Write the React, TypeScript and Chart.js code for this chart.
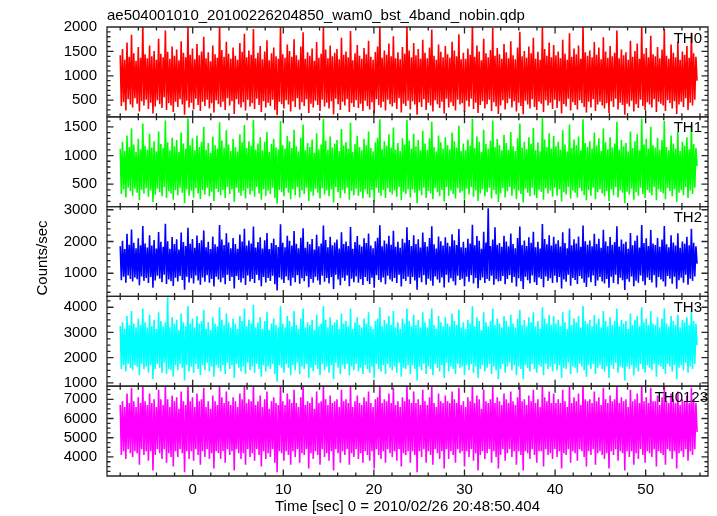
import React, { useEffect, useRef } from 'react';
import { Chart, registerables } from 'chart.js';

Chart.register(...registerables);

const TITLE = 'ae504001010_20100226204850_wam0_bst_4band_nobin.qdp';
const X_TITLE = 'Time [sec] 0 = 2010/02/26 20:48:50.404';
const Y_TITLE = 'Counts/sec';

// time bins (sec): first bin start and bin width
const T_START = -8;
const T_BIN = 0.1246;

const PANEL_NAMES = ['TH0', 'TH1', 'TH2', 'TH3', 'TH0123'];
const COLORS = ['#ff0000', '#00ff00', '#0000ff', '#00ffff', '#ff00ff'];

const X_MIN = -9.46;
const X_MAX = 56.88;
const X_TICKS = [0, 10, 20, 30, 40, 50];

const Y_MIN = [160, 110, 270, 870, 3010];
const Y_MAX = [2000, 1675, 3100, 4430, 7680];
const Y_TICKS_TH0 = [500, 1000, 1500, 2000];
const Y_TICKS_TH1 = [500, 1000, 1500];
const Y_TICKS_TH2 = [1000, 2000, 3000];
const Y_TICKS_TH3 = [1000, 2000, 3000, 4000];
const Y_TICKS_TH0123 = [4000, 5000, 6000, 7000];
const Y_MINOR = [100, 100, 200, 250, 250];

const TH0 = [
  1420, 380, 1550, 460, 1330, 290, 1680, 520, 1390, 410, 1840, 350, 1460, 540, 1310, 430,
  1590, 270, 1370, 480, 2050, 390, 1440, 510, 1360, 320, 1620, 450, 1400, 230, 1510, 370,
  1330, 500, 1760, 420, 1450, 340, 1380, 560, 1930, 300, 1490, 440, 1350, 390, 1600, 260,
  1410, 470, 1540, 360, 1320, 520, 1710, 410, 1470, 200, 1380, 490, 2000, 350, 1430, 450,
  1560, 310, 1340, 530, 1650, 400, 1420, 280, 1500, 470, 1800, 380, 1360, 510, 1480, 330,
  1300, 440, 1620, 250, 1440, 500, 1370, 420, 2100, 360, 1530, 470, 1390, 300, 1700, 540,
  1450, 390, 1350, 480, 1580, 220, 1410, 520, 1330, 410, 1670, 350, 1490, 460, 1860, 290,
  1380, 510, 1520, 370, 1430, 440, 1960, 320, 1360, 530, 1470, 400, 1610, 260, 1340, 480,
  1500, 350, 1730, 450, 1320, 380, 1460, 510, 1580, 300, 1400, 190, 1350, 470, 2020, 420,
  1440, 330, 1370, 500, 1640, 410, 1510, 270, 1390, 480, 1750, 360, 1420, 540, 1330, 310,
  1600, 460, 1890, 380, 1350, 520, 1480, 240, 1410, 430, 1560, 350, 1310, 490, 1690, 400,
  1370, 280, 1450, 510, 2000, 370, 1540, 450, 1360, 330, 1620, 480, 1400, 210, 1470, 530,
  1550, 420, 1340, 300, 1780, 470, 1430, 390, 1500, 520, 1380, 260, 1920, 440, 1320, 360,
  1460, 500, 1630, 340, 1410, 430, 1350, 280, 1570, 490, 1440, 380, 1720, 310, 1390, 460,
  1330, 230, 1490, 520, 1600, 400, 2050, 350, 1370, 470, 1520, 290, 1430, 510, 1660, 420,
  1400, 370, 1810, 450, 1360, 320, 1480, 540, 1340, 250, 1590, 430, 1450, 380, 2000, 490,
  1520, 310, 1380, 480, 1670, 410, 1420, 200, 1550, 460, 1350, 360, 1740, 520, 1470, 300,
  1360, 450, 1580, 390, 1950, 270, 1410, 500, 1330, 420, 1640, 340, 1490, 470, 1380, 230,
  1610, 530, 1440, 350, 1370, 460, 1700, 380, 1520, 290, 1400, 510, 1850, 410, 1340, 440,
  1470, 260, 1350, 490, 1560, 370, 1430, 530, 2080, 320, 1390, 450, 1620, 240, 1500, 400,
  1320, 480, 1760, 330, 1460, 420, 1380, 510, 1530, 280, 1980, 460, 1410, 370, 1570, 220,
  1440, 390, 1350, 500, 1650, 310, 1480, 440, 1360, 530, 1710, 350, 1420, 480, 1340, 270,
  1580, 450, 1900, 380, 1400, 210, 1510, 490, 1370, 410, 1600, 330, 1460, 520, 1780, 360,
  1350, 300, 1490, 470, 1330, 430, 2000, 260, 1550, 500, 1410, 390, 1680, 450, 1380, 320,
  1630, 510, 1420, 340, 1500, 480, 1360, 230, 1740, 420, 1450, 370, 1330, 530, 1870, 290,
  1390, 460, 1560, 400, 1440, 310, 1620, 500, 1350, 440, 2040, 360, 1480, 250, 1410, 470,
  1520, 350, 1380, 520, 1690, 280, 1430, 410, 1580, 470, 1340, 390, 1790, 330, 1500, 440,
  1370, 240, 1610, 480, 1400, 360, 1470, 530, 1930, 310, 1360, 450, 1540, 400, 1420, 200,
  1480, 430, 1330, 370, 1720, 490, 1390, 270, 1510, 420, 1660, 340, 1350, 510, 2010, 380,
  1450, 300, 1570, 460, 1380, 410, 1820, 350, 1440, 520, 1400, 260, 1590, 470, 1360, 430,
  1540, 390, 1960, 280, 1410, 500, 1350, 440, 1640, 330, 1470, 480, 1380, 220, 1700, 410,
  1330, 470, 1500, 360, 1430, 540, 1610, 300, 1370, 450, 1880, 390, 1460, 510, 1390, 900,
];

const TH1 = [
  1120, 330, 1240, 410, 1080, 270, 1350, 440, 1150, 380, 1470, 300, 1190, 420, 1060, 350,
  1290, 220, 1110, 400, 1560, 340, 1170, 430, 1100, 280, 1380, 390, 1140, 190, 1250, 320,
  1070, 420, 1420, 360, 1200, 290, 1130, 450, 1610, 260, 1230, 380, 1090, 340, 1310, 230,
  1160, 400, 1270, 310, 1060, 440, 1400, 350, 1210, 170, 1120, 410, 1650, 300, 1180, 390,
  1300, 270, 1090, 430, 1350, 340, 1150, 240, 1240, 400, 1500, 320, 1100, 440, 1220, 290,
  1050, 370, 1330, 210, 1180, 420, 1120, 360, 1580, 310, 1260, 400, 1140, 260, 1440, 450,
  1190, 330, 1080, 410, 1290, 190, 1150, 440, 1070, 350, 1370, 300, 1230, 390, 1530, 250,
  1130, 430, 1250, 320, 1170, 380, 1620, 280, 1100, 450, 1210, 340, 1320, 230, 1090, 410,
  1240, 300, 1410, 390, 1060, 330, 1200, 440, 1290, 260, 1140, 160, 1110, 400, 1600, 360,
  1180, 290, 1120, 430, 1340, 350, 1250, 240, 1130, 410, 1450, 310, 1160, 450, 1070, 270,
  1310, 390, 1540, 330, 1090, 440, 1220, 210, 1150, 370, 1280, 300, 1050, 420, 1390, 350,
  1110, 250, 1190, 430, 1640, 320, 1260, 390, 1100, 290, 1330, 410, 1140, 180, 1210, 450,
  1270, 360, 1080, 260, 1460, 400, 1170, 340, 1230, 440, 1120, 230, 1570, 380, 1060, 310,
  1200, 420, 1340, 300, 1150, 370, 1090, 250, 1290, 410, 1180, 330, 1420, 270, 1130, 400,
  1070, 200, 1230, 440, 1310, 350, 1630, 300, 1110, 400, 1250, 260, 1170, 430, 1370, 360,
  1140, 320, 1490, 390, 1100, 280, 1220, 450, 1080, 220, 1300, 370, 1190, 330, 1620, 410,
  1260, 270, 1120, 410, 1380, 350, 1160, 170, 1270, 390, 1090, 310, 1430, 440, 1210, 260,
  1100, 380, 1300, 340, 1590, 240, 1150, 430, 1070, 360, 1350, 290, 1230, 400, 1120, 200,
  1320, 450, 1180, 300, 1110, 390, 1400, 330, 1250, 250, 1140, 430, 1520, 350, 1080, 380,
  1210, 230, 1090, 420, 1280, 320, 1170, 450, 1640, 280, 1130, 390, 1330, 210, 1240, 340,
  1060, 410, 1450, 290, 1200, 360, 1120, 440, 1260, 250, 1610, 400, 1150, 320, 1290, 190,
  1180, 340, 1090, 430, 1360, 270, 1220, 380, 1100, 450, 1410, 300, 1160, 410, 1080, 240,
  1300, 390, 1560, 330, 1140, 180, 1240, 420, 1110, 350, 1320, 290, 1200, 440, 1480, 310,
  1090, 260, 1230, 400, 1070, 370, 1650, 230, 1280, 430, 1150, 340, 1390, 390, 1120, 280,
  1340, 440, 1160, 300, 1240, 410, 1100, 200, 1440, 360, 1190, 320, 1070, 450, 1540, 250,
  1130, 390, 1280, 350, 1180, 270, 1330, 430, 1090, 380, 1630, 310, 1220, 220, 1150, 400,
  1250, 300, 1120, 440, 1400, 240, 1170, 360, 1300, 410, 1080, 340, 1470, 290, 1230, 380,
  1110, 210, 1320, 410, 1140, 310, 1210, 450, 1590, 270, 1100, 390, 1270, 350, 1160, 170,
  1220, 370, 1070, 320, 1420, 420, 1130, 230, 1250, 360, 1370, 300, 1090, 440, 1640, 330,
  1190, 260, 1290, 400, 1120, 350, 1500, 310, 1180, 450, 1140, 220, 1310, 410, 1100, 370,
  1270, 340, 1600, 240, 1150, 430, 1090, 380, 1350, 290, 1210, 410, 1120, 190, 1410, 350,
  1080, 400, 1240, 310, 1170, 450, 1320, 260, 1110, 390, 1550, 330, 1200, 440, 1130, 820,
];

const TH2 = [
  1850, 780, 2020, 890, 1760, 700, 2240, 930, 1900, 820, 2380, 740, 1960, 870, 1790, 810,
  2100, 620, 1880, 900, 2490, 760, 1940, 850, 1810, 690, 2200, 880, 1870, 540, 2050, 770,
  1780, 920, 2300, 830, 1990, 720, 1830, 950, 2560, 660, 2010, 800, 1770, 750, 2140, 600,
  1920, 860, 2070, 740, 1750, 910, 2280, 790, 1980, 480, 1860, 890, 2430, 710, 1930, 840,
  2080, 680, 1800, 930, 2190, 770, 1950, 640, 2040, 870, 2350, 730, 1820, 940, 1990, 700,
  1760, 820, 2160, 580, 1910, 890, 1840, 800, 2520, 720, 2060, 860, 1890, 650, 2260, 950,
  1970, 760, 1790, 880, 2110, 520, 1920, 910, 1770, 790, 2220, 710, 2000, 840, 2400, 630,
  1870, 930, 2030, 740, 1940, 820, 2470, 690, 1810, 950, 1980, 780, 2130, 590, 1780, 880,
  2040, 710, 2270, 850, 1760, 760, 1950, 920, 2090, 650, 1890, 460, 1830, 870, 2540, 800,
  1960, 690, 1820, 900, 2180, 780, 2020, 610, 1870, 860, 2330, 720, 1930, 940, 1790, 670,
  2120, 840, 2420, 750, 1800, 910, 1990, 560, 1910, 820, 2080, 700, 1750, 890, 2210, 770,
  1850, 640, 1940, 920, 2500, 730, 2050, 850, 1820, 680, 2150, 880, 1880, 500, 1970, 950,
  2060, 800, 1780, 620, 2290, 860, 1920, 760, 2000, 930, 1860, 590, 2460, 830, 1770, 720,
  1980, 900, 2170, 700, 1900, 810, 1840, 630, 2100, 880, 1950, 750, 2250, 660, 1870, 860,
  1790, 540, 2010, 940, 2120, 790, 2510, 720, 1850, 870, 2030, 650, 1930, 920, 2180, 800,
  1900, 740, 2340, 850, 1830, 690, 1990, 950, 1800, 580, 2090, 820, 1960, 760, 2450, 890,
  2050, 660, 1860, 880, 2200, 770, 1920, 480, 2070, 860, 1810, 720, 2280, 940, 1980, 640,
  1840, 830, 2110, 760, 2480, 610, 1910, 900, 1780, 800, 2160, 700, 2010, 870, 1870, 550,
  2130, 950, 1960, 710, 1850, 840, 2230, 750, 2040, 620, 1890, 920, 2390, 790, 1820, 830,
  1990, 590, 1800, 890, 2090, 730, 1940, 940, 2530, 680, 1880, 850, 2170, 530, 2020, 780,
  1770, 870, 2310, 690, 1970, 820, 3050, 760, 1860, 920, 2060, 640, 2450, 810, 1900, 740,
  1950, 760, 1830, 910, 2180, 650, 2000, 820, 1850, 940, 2250, 700, 1920, 880, 1790, 580,
  2110, 840, 2470, 750, 1890, 500, 2030, 890, 1860, 780, 2130, 680, 1960, 930, 2310, 720,
  1820, 630, 1990, 870, 1780, 820, 2550, 560, 2080, 900, 1910, 760, 2200, 840, 1870, 690,
  2150, 920, 1930, 710, 2040, 880, 1840, 520, 2290, 800, 1950, 730, 1790, 950, 2410, 610,
  1880, 850, 2070, 790, 1940, 660, 2160, 910, 1830, 830, 2500, 700, 2010, 570, 1900, 870,
  2030, 720, 1850, 930, 2240, 600, 1920, 770, 2090, 880, 1800, 740, 2370, 680, 2000, 820,
  1860, 540, 2140, 890, 1900, 690, 1980, 950, 2480, 650, 1840, 860, 2060, 780, 1930, 470,
  1990, 810, 1770, 730, 2270, 900, 1880, 590, 2020, 760, 2190, 700, 1810, 930, 2520, 750,
  1950, 620, 2100, 870, 1860, 790, 2360, 710, 1940, 940, 1890, 550, 2110, 880, 1830, 800,
  2060, 740, 2490, 580, 1910, 910, 1820, 830, 2200, 670, 1970, 890, 1870, 510, 2260, 780,
  1800, 860, 2000, 700, 1930, 950, 2150, 640, 1880, 830, 2400, 760, 1960, 900, 1850, 1300,
];

const TH3 = [
  3250, 1550, 3400, 1700, 3150, 1450, 3650, 1750, 3300, 1600, 3850, 1500, 3350, 1700, 3200, 1650,
  3550, 1300, 3300, 1750, 3950, 1550, 3400, 1650, 3200, 1400, 3700, 1700, 3250, 1150, 3500, 1550,
  3150, 1750, 3800, 1600, 3450, 1400, 3250, 1800, 3400, 1350, 4400, 1550, 3200, 1500, 3600, 1250,
  3350, 1700, 3500, 1500, 3100, 1750, 3750, 1600, 3400, 1100, 3250, 1700, 4050, 1450, 3350, 1650,
  3550, 1400, 3200, 1750, 3650, 1550, 3350, 1300, 3450, 1700, 3900, 1500, 3150, 1800, 3400, 1450,
  3100, 1650, 3600, 1250, 3350, 1700, 3250, 1600, 4000, 1450, 3500, 1700, 3300, 1350, 3750, 1800,
  3400, 1550, 3200, 1700, 3550, 1200, 3350, 1750, 3150, 1600, 3650, 1450, 3450, 1650, 3950, 1350,
  3250, 1800, 3500, 1500, 3350, 1650, 4100, 1400, 3200, 1750, 3400, 1550, 3600, 1250, 3150, 1700,
  3450, 1450, 3800, 1650, 3100, 1550, 3350, 1750, 3550, 1350, 3300, 1050, 3200, 1700, 4050, 1600,
  3350, 1400, 3200, 1750, 3650, 1600, 3450, 1300, 3250, 1700, 3850, 1500, 3300, 1800, 3150, 1350,
  3550, 1650, 3950, 1550, 3200, 1750, 3400, 1200, 3300, 1600, 3500, 1450, 3100, 1700, 3700, 1550,
  3250, 1300, 3350, 1750, 4050, 1500, 3500, 1650, 3200, 1400, 3600, 1700, 3300, 1150, 3400, 1800,
  3500, 1600, 3150, 1350, 3750, 1700, 3350, 1550, 3450, 1750, 3250, 1300, 3950, 1650, 3150, 1500,
  3400, 1750, 3600, 1450, 3300, 1600, 3200, 1350, 3550, 1700, 3350, 1550, 3800, 1400, 3250, 1650,
  3150, 1200, 3450, 1750, 3550, 1550, 4000, 1450, 3250, 1700, 3500, 1350, 3350, 1750, 3650, 1600,
  3300, 1500, 3850, 1650, 3200, 1400, 3400, 1800, 3150, 1250, 3550, 1600, 3350, 1550, 3950, 1700,
  3450, 1350, 3250, 1700, 3700, 1550, 3300, 1100, 3500, 1650, 3200, 1500, 3800, 1750, 3400, 1350,
  3200, 1650, 3550, 1550, 3950, 1300, 3300, 1750, 3150, 1600, 3650, 1450, 3400, 1700, 3250, 1200,
  3600, 1800, 3350, 1450, 3250, 1650, 3750, 1550, 3450, 1350, 3300, 1750, 3900, 1600, 3200, 1650,
  3400, 1300, 3150, 1700, 3500, 1500, 3350, 1750, 4050, 1400, 3250, 1650, 3600, 1200, 3450, 1550,
  3100, 1700, 3800, 1450, 3400, 1600, 3250, 1750, 3450, 1350, 3950, 1650, 3300, 1500, 3550, 1150,
  3350, 1550, 3200, 1750, 3650, 1400, 3450, 1650, 3250, 1800, 3700, 1500, 3350, 1700, 3200, 1300,
  3550, 1650, 3900, 1550, 3300, 1150, 3500, 1700, 3250, 1600, 3600, 1450, 3400, 1750, 3800, 1550,
  3250, 1400, 3450, 1700, 3150, 1650, 4000, 1300, 3550, 1750, 3350, 1550, 3700, 1650, 3300, 1450,
  3650, 1750, 3350, 1500, 3500, 1700, 3250, 1200, 3800, 1600, 3400, 1550, 3150, 1800, 3900, 1350,
  3300, 1650, 3550, 1600, 3400, 1400, 3650, 1750, 3200, 1650, 4050, 1500, 3450, 1250, 3350, 1700,
  3500, 1550, 3250, 1750, 3700, 1350, 3350, 1600, 3550, 1700, 3200, 1550, 3850, 1450, 3450, 1650,
  3250, 1200, 3600, 1700, 3300, 1550, 3450, 1800, 3950, 1400, 3250, 1650, 3500, 1600, 3350, 1100,
  3450, 1650, 3150, 1550, 3750, 1700, 3300, 1300, 3500, 1600, 3650, 1450, 3250, 1750, 4000, 1550,
  3400, 1400, 3550, 1700, 3300, 1600, 3850, 1500, 3350, 1750, 3300, 1250, 3600, 1700, 3200, 1650,
  3550, 1550, 3950, 1350, 3350, 1750, 3250, 1650, 3650, 1450, 3450, 1700, 3300, 1150, 3700, 1600,
  3200, 1700, 3500, 1500, 3400, 1800, 3600, 1400, 3300, 1650, 3900, 1550, 3450, 1750, 3350, 2500,
];

const TH0123 = [
  6700, 4100, 6900, 4300, 6600, 3900, 7300, 4400, 6800, 4200, 7600, 4000, 6900, 4300, 6600, 4200,
  7100, 3600, 6800, 4400, 7800, 4100, 6900, 4300, 6700, 3800, 7300, 4300, 6800, 3300, 7000, 4100,
  6600, 4400, 7500, 4200, 7000, 3900, 6700, 4400, 7700, 3700, 7000, 4200, 6600, 4000, 7200, 3500,
  6900, 4300, 7100, 4000, 6500, 4400, 7400, 4200, 6900, 3200, 6700, 4300, 7800, 3900, 6900, 4300,
  7100, 3800, 6600, 4400, 7300, 4100, 6900, 3600, 7000, 4300, 7600, 4000, 6600, 4400, 6900, 3900,
  6500, 4200, 7200, 3400, 6900, 4300, 6700, 4200, 7700, 3900, 7100, 4300, 6800, 3700, 7400, 4400,
  6900, 4100, 6700, 4300, 7100, 3300, 6900, 4400, 6600, 4200, 7300, 3900, 7000, 4200, 7700, 3600,
  6800, 4400, 7000, 4000, 6900, 4200, 7800, 3800, 6700, 4400, 6900, 4100, 7200, 3500, 6600, 4300,
  7000, 3900, 7400, 4200, 6500, 4000, 6900, 4400, 7100, 3700, 6800, 3200, 6700, 4300, 7800, 4200,
  6900, 3800, 6700, 4300, 7300, 4100, 7000, 3600, 6800, 4300, 7500, 4000, 6800, 4400, 6600, 3700,
  7100, 4200, 7700, 4100, 6700, 4400, 6900, 3400, 6800, 4200, 7100, 3900, 6500, 4300, 7400, 4100,
  6800, 3600, 6900, 4400, 7800, 4000, 7000, 4200, 6700, 3800, 7200, 4300, 6800, 3300, 6900, 4400,
  7000, 4200, 6600, 3700, 7500, 4300, 6900, 4100, 7000, 4400, 6800, 3600, 7700, 4200, 6600, 4000,
  6900, 4400, 7200, 3900, 6800, 4200, 6700, 3700, 7100, 4300, 6900, 4100, 7400, 3800, 6800, 4300,
  6600, 3400, 7000, 4400, 7100, 4100, 7800, 3900, 6800, 4300, 7000, 3700, 6900, 4400, 7300, 4200,
  6800, 4000, 7600, 4300, 6700, 3800, 6900, 4400, 6600, 3500, 7100, 4200, 6900, 4100, 7700, 4300,
  7000, 3700, 6800, 4300, 7400, 4100, 6800, 3200, 7000, 4300, 6700, 4000, 7500, 4400, 6900, 3700,
  6700, 4300, 7100, 4100, 7700, 3600, 6800, 4400, 6600, 4200, 7300, 3900, 6900, 4300, 6800, 3400,
  7200, 4400, 6900, 3900, 6800, 4300, 7400, 4100, 7000, 3700, 6800, 4400, 7600, 4200, 6700, 4300,
  6900, 3500, 6600, 4300, 7100, 4000, 6900, 4400, 7800, 3800, 6800, 4200, 7200, 3300, 7000, 4100,
  6500, 4300, 7500, 3900, 6900, 4200, 6800, 4400, 7000, 3700, 7700, 4300, 6800, 4000, 7100, 3400,
  6900, 4100, 6700, 4400, 7300, 3800, 7000, 4200, 6800, 4400, 7400, 4000, 6900, 4300, 6700, 3600,
  7100, 4300, 7700, 4100, 6900, 3300, 7000, 4300, 6700, 4200, 7200, 3900, 6900, 4400, 7500, 4100,
  6800, 3700, 7000, 4300, 6600, 4300, 7800, 3500, 7100, 4400, 6900, 4100, 7400, 4200, 6800, 3900,
  7300, 4400, 6800, 4000, 7000, 4300, 6800, 3400, 7500, 4200, 6900, 4100, 6600, 4400, 7700, 3700,
  6800, 4300, 7100, 4200, 6900, 3800, 7300, 4400, 6700, 4300, 7800, 4000, 7000, 3500, 6900, 4300,
  7000, 4100, 6800, 4400, 7400, 3600, 6900, 4200, 7100, 4300, 6700, 4100, 7600, 3900, 7000, 4200,
  6800, 3400, 7200, 4300, 6900, 4100, 7000, 4400, 7700, 3800, 6800, 4300, 7100, 4200, 6900, 3300,
  7000, 4300, 6600, 4000, 7500, 4300, 6900, 3600, 7000, 4200, 7300, 3900, 6800, 4400, 7800, 4100,
  6900, 3700, 7100, 4300, 6800, 4200, 7600, 4000, 6900, 4400, 6900, 3500, 7200, 4300, 6700, 4200,
  7100, 4100, 7700, 3600, 6900, 4400, 6800, 4300, 7300, 3900, 7000, 4300, 6800, 3400, 7400, 4200,
  6700, 4300, 7000, 4000, 6900, 4400, 7200, 3800, 6800, 4300, 7600, 4100, 7000, 4400, 6800, 5300,
];

const SERIES = [TH0, TH1, TH2, TH3, TH0123];
const Y_TICKS = [Y_TICKS_TH0, Y_TICKS_TH1, Y_TICKS_TH2, Y_TICKS_TH3, Y_TICKS_TH0123];

const FONT = '"Liberation Sans", Arial, Helvetica, sans-serif';
const FRAME = '#262626';

const qdpPlugin = {
  id: 'qdpFrame',
  afterDraw(chart: any) {
    const ctx = chart.ctx as CanvasRenderingContext2D;
    const xs = chart.scales.x;
    const left = chart.chartArea.left;
    const right = chart.chartArea.right;
    ctx.save();
    ctx.strokeStyle = FRAME;
    ctx.lineWidth = 1.3;
    ctx.lineCap = 'butt';
    PANEL_NAMES.forEach((name, i) => {
      const ys = chart.scales['y' + i];
      const top = ys.top;
      const bottom = ys.bottom;
      ctx.beginPath();
      ctx.rect(left, top, right - left, bottom - top);
      for (let t = -8; t <= X_MAX; t += 2) {
        const px = xs.getPixelForValue(t);
        if (px <= left + 1 || px >= right - 1) continue;
        const len = t % 10 === 0 ? 6.5 : 3.5;
        ctx.moveTo(px, bottom);
        ctx.lineTo(px, bottom - len);
        ctx.moveTo(px, top);
        ctx.lineTo(px, top + len);
      }
      const step = Y_MINOR[i];
      const majors = Y_TICKS[i];
      const majorStep = majors[1] - majors[0];
      for (let v = Math.ceil(Y_MIN[i] / step) * step; v <= Y_MAX[i]; v += step) {
        const py = ys.getPixelForValue(v);
        if (py <= top + 1 || py >= bottom - 1) continue;
        const len = v % majorStep === 0 ? 6.5 : 3.5;
        ctx.moveTo(left, py);
        ctx.lineTo(left + len, py);
        ctx.moveTo(right, py);
        ctx.lineTo(right - len, py);
      }
      ctx.stroke();
      ctx.fillStyle = '#000';
      ctx.font = '15px ' + FONT;
      ctx.textAlign = 'right';
      ctx.textBaseline = 'alphabetic';
      const lx = name.length > 3 ? right : right - 6;
      ctx.fillText(name, lx, top + 15.5);
    });
    ctx.fillStyle = '#000';
    ctx.font = '15px ' + FONT;
    ctx.textAlign = 'left';
    ctx.textBaseline = 'alphabetic';
    ctx.fillText(TITLE, left, 19.5);
    ctx.textAlign = 'center';
    ctx.fillText(X_TITLE, (left + right) / 2, 510.5);
    ctx.save();
    ctx.translate(46.5, 258);
    ctx.rotate(-Math.PI / 2);
    ctx.fillText(Y_TITLE, 0, 0);
    ctx.restore();
    ctx.restore();
  },
};

export default function App() {
  const ref = useRef<HTMLCanvasElement | null>(null);

  useEffect(() => {
    document.body.style.margin = '0';
    const canvas = ref.current;
    if (!canvas) return;

    const datasets = SERIES.map((vals, i) => ({
      label: PANEL_NAMES[i],
      data: vals.map((v, j) => ({ x: T_START + j * T_BIN, y: v })),
      borderColor: COLORS[i],
      backgroundColor: COLORS[i],
      borderWidth: 1.6,
      pointRadius: 0,
      tension: 0,
      fill: false,
      xAxisID: 'x',
      yAxisID: 'y' + i,
    }));

    const scales: any = {
      x: {
        type: 'linear',
        position: 'bottom',
        min: X_MIN,
        max: X_MAX,
        grid: { display: false, drawTicks: false },
        border: { display: false },
        ticks: {
          padding: 5,
          autoSkip: false,
          maxRotation: 0,
          color: '#000',
          font: { family: FONT, size: 15 },
          callback: (v: any) => String(v),
        },
        afterBuildTicks: (s: any) => {
          s.ticks = X_TICKS.map((v) => ({ value: v }));
        },
        afterFit: (s: any) => {
          s.height = 40;
        },
      },
    };
    PANEL_NAMES.forEach((_, i) => {
      scales['y' + i] = {
        type: 'linear',
        position: 'left',
        stack: 'panels',
        stackWeight: 1,
        weight: 10 - i,
        min: Y_MIN[i],
        max: Y_MAX[i],
        grid: { display: false, drawTicks: false },
        border: { display: false },
        ticks: {
          padding: 10,
          autoSkip: false,
          color: '#000',
          font: { family: FONT, size: 15 },
          callback: (v: any) => String(v),
        },
        afterBuildTicks: (s: any) => {
          s.ticks = Y_TICKS[i].map((v) => ({ value: v }));
        },
        afterFit: (s: any) => {
          s.width = 107;
        },
      };
    });

    const chart = new Chart(canvas, {
      type: 'line',
      data: { datasets },
      options: {
        animation: false,
        responsive: false,
        devicePixelRatio: 1,
        layout: { padding: { top: 27, right: 9, bottom: 0, left: 0 } },
        plugins: {
          legend: { display: false },
          tooltip: { enabled: false },
          title: { display: false },
        },
        scales,
      },
      plugins: [qdpPlugin],
    } as any);

    return () => chart.destroy();
  }, []);

  return (
    <div style={{ position: 'fixed', left: 0, top: 0, width: 717, height: 516, background: '#fff' }}>
      <canvas ref={ref} width={717} height={516} style={{ display: 'block' }} />
    </div>
  );
}
